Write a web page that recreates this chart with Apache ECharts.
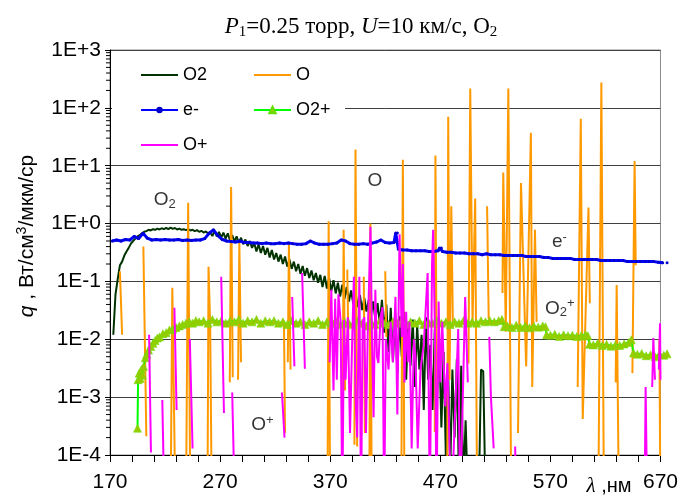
<!DOCTYPE html>
<html>
<head>
<meta charset="utf-8">
<script src="https://cdn.jsdelivr.net/npm/echarts@6/dist/echarts.min.js"></script>
<style>
  html, body { margin: 0; padding: 0; background: #fff; }
  #chart { width: 681px; height: 496px; }
</style>
</head>
<body>
<div id="chart"></div>
<script>
// Emission spectra q(λ), W/cm3/µm/sr, for P1 = 0.25 torr, U = 10 km/s, O2.
// Each series is a list of [wavelength nm, value]; null breaks the line.

const X_MIN = 170, X_MAX = 670, X_STEP = 100;
const Y_MIN = 1e-4, Y_MAX = 1e3;

// log-decade minor tick values 2..9 x 10^k
const Y_MINOR = [];
for (let k = -4; k < 3; k++) for (let m = 2; m <= 9; m++) Y_MINOR.push(m * Math.pow(10, k));

const O2_DATA = [
  [173,0.012],[175,0.06],[177,0.11],[179,0.19],[181,0.22],[183,0.28],[185,0.33],[187,0.38],[189,0.45],[191,0.5],
  [193,0.55],[195,0.6],[197,0.63],[199,0.68],[201,0.72],[203,0.74],[205,0.78],[207,0.76],[209,0.8],[211,0.78],
  [213,0.82],[215,0.79],[217,0.83],[219,0.8],[221,0.84],[223,0.8],[225,0.85],[227,0.81],[229,0.84],[231,0.79],
  [233,0.82],[235,0.78],[237,0.8],[239,0.77],[241,0.8],[243,0.76],[245,0.78],[247,0.74],[249,0.77],[251,0.72],
  [253,0.75],[255,0.7],[257,0.73],[259,0.68],[261,0.7],[263,0.61],[265,0.75],[267,0.6],[269,0.72],[271,0.57],
  [273,0.7],[275,0.55],[277,0.68],[279,0.51],[281,0.63],[283,0.49],[285,0.6],[287,0.46],[289,0.57],[291,0.44],
  [293,0.53],[295,0.41],[297,0.5],[299,0.38],[301,0.46],[303,0.33],[305,0.44],[307,0.31],[309,0.41],[311,0.29],
  [313,0.38],[315,0.26],[317,0.35],[319,0.24],[321,0.31],[323,0.22],[325,0.29],[327,0.2],[329,0.27],[331,0.18],
  [333,0.24],[335,0.165],[337,0.22],[339,0.15],[341,0.2],[343,0.135],[345,0.185],[347,0.125],[349,0.17],[351,0.115],
  [353,0.155],[355,0.105],[357,0.14],[359,0.095],[361,0.13],[363,0.08],[365,0.125],[367,0.075],[369,0.115],[371,0.068],
  [373,0.105],[375,0.062],[377,0.095],[379,0.055],[381,0.088],[383,0.05],[385,0.08],[387,0.045],[389,0.07],[391,0.04],
  [393,0.064],[395,0.036],[397,0.058],[399,0.032],[401,0.052],[403,0.03],[405,0.048],[407,0.026],[409,0.045],[411,0.022],
  [413,0.042],[415,0.019],[417,0.048],[419,0.013],[421,0.04],[423,0.006],[425,0.035],[427,0.004],[429,0.03],[431,0.0025],
  [433,0.025],[435,0.005],[437,0.03],[439,0.002],[441,0.02],[443,0.0035],[445,0.022],[447,0.0015],[449,0.018],[451,0.003],
  [453,0.012],[455,0.0006],[457,0.024],[459,0.002],[461,0.008],[463,0.0006],[465,0.015],[467,0.0009],[469,0.01],[471,0.0003],
  [473,0.006],[475,0.0001],[477,0.004],[479,0.00005],[481,0.003],[483,0.0002],[485,0.0045],[487,0.00003],[489,0.0035],[491,0.00003],
  [493,0.0004],[495,0.00002],[505,0.00002],[507,0.003],[509,0.0028],[511,0.00002]
];

const O_DATA = [
  [179,0.15],[181,0.012],null,
  [200.3,0.4],[203,2.1e-4],null,
  [225,1e-5],[226.6,0.078],[229.5,1e-5],[239,1e-5],[241,2.3],[243,1e-5],null,
  [258.5,1e-5],[259.5,0.18],[261,0.017],[262.5,1e-5],null,
  [278.8,0.0018],[280,4.3],[281.5,0.0022],null,
  [286.3,0.002],[287.5,0.47],[289,0.004],null,
  [328,0.021],[329,2.4e-4],null,
  [331.5,0.004],[332.5,0.47],[334,0.003],null,
  [367.5,1e-5],[368.6,1.1],[370,1e-5],null,
  [381.5,0.0013],[382.2,0.78],[383.5,0.0013],null,
  [385.5,0.16],[386.5,0.011],null,
  [392,1.5e-4],[393,19],[394.5,1.4e-4],null,
  [400.5,0.12],[401.5,2.4e-4],null,
  [405.5,1e-5],[406.5,1.0],[407.8,1e-5],null,
  [420,0.15],[421,0.011],null,
  [434.5,1e-5],[436,12.7],[437.5,1e-5],null,
  [465,2.5e-4],[465.6,15],[467,2.5e-4],null,
  [476.3,1e-5],[477.2,70],[478.4,0.002],[480,2.0],[481.5,0.016],null,
  [495.6,0.0038],[497.2,215],[499.3,0.02],[501.7,2.7],[503.5,1e-5],null,
  [512.5,2.0],[514,0.022],null,
  [526.5,0.063],[527.2,7.6],[529.5,0.0135],[531.8,215],[534.5,1e-5],null,
  [540.6,2.4e-4],[543.3,5.0],[545.5,0.16],[548,0.0034],[552.3,37],[553.5,0.0015],[556,0.78],[557.5,0.02],null,
  [594.8,0.0015],[597.6,65],[599.4,4.2e-4],[604.6,1.9],[605.8,0.042],null,
  [613.5,1e-5],[616.3,273],[618.7,1e-5],null,
  [629.3,0.0018],[630.2,0.087],[632.3,1e-5],null,
  [644.5,0.0026],[646.5,12],[647.5,0.19],null,
  [669,0.01],[670,1e-5]
];

const E_DATA = [
  [172,0.5],[176,0.52],[180,0.5],[184,0.53],[188,0.52],[192,0.6],[196,0.55],[200,0.68],[204,0.56],[208,0.52],
  [212,0.53],[216,0.52],[220,0.53],[224,0.52],[228,0.52],[232,0.53],[236,0.51],[240,0.52],[244,0.51],[248,0.52],
  [252,0.52],[256,0.55],[260,0.68],[264,0.78],[268,0.62],[272,0.53],[276,0.5],[280,0.49],[284,0.48],[288,0.5],
  [292,0.47],[296,0.47],[300,0.46],[304,0.46],[308,0.45],[312,0.46],[316,0.45],[320,0.45],[324,0.46],[328,0.45],
  [332,0.46],[336,0.45],[340,0.44],[344,0.44],[348,0.45],[352,0.5],[356,0.46],[360,0.44],[364,0.44],[368,0.44],
  [372,0.45],[376,0.46],[380,0.52],[384,0.5],[388,0.45],[392,0.44],[396,0.44],[400,0.45],[404,0.44],[408,0.46],
  [412,0.48],[416,0.52],[420,0.47],[424,0.46],[428,0.47],[429.5,0.69],[431,0.69],[432,0.36],[436,0.35],[440,0.35],
  [444,0.34],[448,0.34],[452,0.34],[456,0.34],[460,0.33],[464,0.33],[468,0.34],[469.5,0.38],[471,0.38],[472,0.33],
  [476,0.32],[480,0.32],[484,0.31],[488,0.31],[492,0.31],[496,0.3],[500,0.3],[504,0.3],[508,0.29],[512,0.3],
  [516,0.29],[520,0.29],[524,0.29],[528,0.28],[532,0.28],[536,0.28],[540,0.28],[544,0.28],[548,0.27],[552,0.27],
  [556,0.27],[560,0.27],[564,0.26],[568,0.26],[572,0.25],[576,0.25],[580,0.25],[584,0.25],[588,0.25],[592,0.24],
  [596,0.24],[600,0.24],[604,0.24],[608,0.24],[612,0.24],[616,0.23],[620,0.23],[624,0.23],[628,0.23],[632,0.23],
  [636,0.23],[640,0.22],[644,0.22],[648,0.22],[652,0.22],[656,0.22],[660,0.22],[664,0.22],[668,0.215],[672,0.21],[676,0.21]
];

const O2P_DATA = [
  [195,2.9e-4],[195.5,2.0e-3],[196.5,2.6e-3],[197.5,2.1e-3],[198.5,3.0e-3],[199.5,2.4e-3],[200.5,3.4e-3],[202,4.8e-3],
  [203.5,5.5e-3],[205,6.5e-3],[207,7.5e-3],[209,8.5e-3],[211,9.5e-3],[213,0.0105],[215,0.011],[218,0.0125],[221,0.013],
  [224,0.0145],[227,0.015],[230,0.016],[233,0.017],[236,0.018],[239,0.019],[242,0.02],[245,0.019],[248,0.021],
  [251,0.02],[255,0.021],[259,0.019],[263,0.022],[267,0.02],[271,0.021],[275,0.019],[279,0.021],[283,0.02],[287,0.022],
  [291,0.019],[295,0.021],[299,0.02],[303,0.022],[307,0.019],[311,0.021],[315,0.02],[319,0.021],[323,0.019],[327,0.02],
  [331,0.018],[335,0.021],[339,0.019],[343,0.02],[347,0.018],[351,0.02],[355,0.019],[359,0.021],[363,0.018],[367,0.02],
  [371,0.019],[375,0.021],[379,0.018],[383,0.02],[387,0.019],[391,0.018],[395,0.021],[399,0.019],[403,0.017],[407,0.02],
  [411,0.018],[415,0.021],[419,0.019],[423,0.018],[427,0.02],[431,0.019],[435,0.021],[439,0.018],[443,0.02],[447,0.019],
  [451,0.021],[455,0.018],[459,0.02],[463,0.019],[467,0.021],[471,0.019],[475,0.02],[479,0.018],[483,0.02],[487,0.019],
  [491,0.021],[495,0.019],[499,0.02],[503,0.019],[507,0.021],[511,0.02],[515,0.021],[519,0.02],[523,0.021],[526,0.022],
  [528,0.0165],[531,0.017],[535,0.016],[539,0.0175],[543,0.016],[547,0.017],[551,0.0158],[555,0.0168],[559,0.0162],[563,0.017],
  [565.5,0.0165],[566.5,0.012],[570,0.0118],[574,0.0122],[578,0.0112],[582,0.012],[586,0.0115],[590,0.0118],[594,0.0112],[598,0.0115],
  [602,0.012],[604,0.0115],[605.5,0.0082],[609,0.008],[613,0.0085],[617,0.0078],[621,0.0082],[625,0.0076],[629,0.008],[633,0.0078],
  [637,0.0083],[641,0.0088],[643.5,0.0098],[645.5,0.0058],[649,0.0055],[653,0.0057],[657,0.0052],[661,0.0054],[665,0.005],[669,0.0055],
  [673,0.0053],[676,0.0056]
];

const OP_DATA = [
  [205.5,0.012],[207.2,1.1e-4],null,
  [217.5,8.9e-4],[219.5,1e-5],null,
  [228.5,0.035],[230.5,6e-4],null,
  [242.5,0.01],[245,1.3e-4],null,
  [271,0.12],[273.5,5.3e-4],null,
  [281,1.2e-3],[283.5,1e-5],null,
  [326.2,1.2e-3],[328.5,2e-4],null,
  [335.5,0.054],[337.5,3.4e-3],null,
  [344.5,0.14],[347,3.1e-3],null,
  [369.5,0.004],[371,0.072],[373,0.0013],[374.5,0.05],[376,0.002],[377.5,0.06],[379.5,0.02],[381,1e-5],[382.5,0.0216],[384,0.002],
  [386,0.024],[388,2.4e-4],[390,0.01],[391.5,0.12],[393,0.001],[394.5,2e-4],[396.5,0.12],[398,1e-5],[399.5,0.02],[401,0.024],
  [402.5,2.4e-4],[404,0.01],[406.6,0.88],[408,0.01],[409.4,4.5e-4],[411,0.072],[412.5,0.005],[413.8,0.0039],[415.7,0.024],[417.5,0.036],
  [419,1e-5],[420.5,0.01],[423,0.003],[425,0.02],[427,0.004],[429.3,0.054],[431,5e-4],[433,0.65],[435,0.011],[436,0.2],
  [437.5,0.0018],[439,0.03],[440.5,0.004],[442,0.02],[444,1.3e-4],[446,0.01],[447.5,0.005],[449.5,1.3e-4],[452,0.003],[455,0.008],
  [458.5,0.14],[460.5,1e-5],[462.5,0.2],[463.5,0.78],[465.5,0.005],[466.5,1e-5],[468.5,0.045],[470,0.0018],[471.8,0.02],[474.5,7e-4],
  [476.5,0.0039],[480,1e-5],[486.3,0.015],[488,1e-5],[492.6,0.054],[495,0.0018],null,
  [514.5,0.011],[516,1e-3],[518.5,1.3e-4],null,
  [538,1.4e-4],[539,1e-5],null,
  [655.5,1e-5],[656.5,1.5e-3],[658,1e-5],null,
  [662.5,1.5e-3],[663.5,0.0105],[665,0.002],null,
  [668.5,0.003],[669.6,0.019],[670,0.002]
];

// in-plot species labels: [wavelength, value, rich text]
const NOTES = [
  [219.8, 2.53, '{n|O}{sub|2}'],
  [410.7, 5.5, '{n|O}'],
  [578.2, 0.484, '{n|e}{sup|-}'],
  [578.6, 0.0343, '{n|O}{sub|2}{sup|+}'],
  [308.5, 3.3e-4, '{n|O}{sup|+}']
];

const SANS = 'Liberation Sans, Arial, sans-serif';
const SERIF = 'Liberation Serif, Times New Roman, serif';

function withGaps(arr) {
  return arr.map(p => p === null ? ['-', '-'] : p);
}

function decadeLabel(v) {
  const e = Math.round(Math.log10(v));
  return '1E' + (e >= 0 ? '+' : '-') + Math.abs(e);
}

const chart = echarts.init(document.getElementById('chart'), null, { renderer: 'canvas' });

const lineBase = { type: 'line', showSymbol: false, symbol: 'none', connectNulls: false, animation: false };

// plain line entries hide the legend marker
const lineOnly = name => ({ name: name, itemStyle: { opacity: 0 } });

const legendBase = {
  orient: 'vertical', top: 61, z: 20,
  itemWidth: 37, itemHeight: 8, itemGap: 17,
  textStyle: { fontSize: 18, fontFamily: SANS, color: '#000', lineHeight: 18 }
};

chart.setOption({
  backgroundColor: '#fff',
  animation: false,
  grid: { left: 110, right: 18, top: 50, bottom: 41, show: true, borderColor: '#8c8c8c', borderWidth: 1 },
  xAxis: {
    type: 'value', min: X_MIN, max: X_MAX, interval: X_STEP,
    axisLine: { onZero: false, lineStyle: { color: '#000', width: 1 } },
    axisTick: { length: 7, lineStyle: { color: '#000' } },
    minorTick: { show: true, splitNumber: 5, length: 7, lineStyle: { color: '#000' } },
    splitLine: { show: false },
    axisLabel: { fontSize: 21, fontFamily: SANS, color: '#000', margin: 17 }
  },
  yAxis: {
    type: 'log', logBase: 10, min: Y_MIN, max: Y_MAX, splitNumber: 7,
    axisLine: { lineStyle: { color: '#000', width: 1 } },
    axisTick: { length: 5, lineStyle: { color: '#000' } },
    splitLine: { lineStyle: { color: '#404040', width: 1 } },
    axisLabel: { fontSize: 21, fontFamily: SANS, color: '#000', margin: 9, formatter: decadeLabel }
  },
  legend: [
    Object.assign({}, legendBase, { left: 135, data: [lineOnly('O2'), { name: 'e-' }, lineOnly('O+')] }),
    Object.assign({}, legendBase, { left: 248, data: [lineOnly('O'), { name: 'O2+' }] })
  ],
  graphic: [
    { type: 'rect', z: 10, shape: { x: 112, y: 51, width: 233, height: 103 }, style: { fill: '#fff' } },
    {
      type: 'text', x: 361, y: 27, z: 10,
      style: {
        text: '{i|P}{sub|1}=0.25 торр, {i|U}=10 км/с, O{sub|2}',
        align: 'center', verticalAlign: 'middle',
        font: '23px ' + SERIF, fill: '#000',
        rich: {
          i: { fontFamily: SERIF, fontSize: 23, fontStyle: 'italic', lineHeight: 26 },
          sub: { fontFamily: SERIF, fontSize: 15, lineHeight: 12, verticalAlign: 'bottom' }
        }
      }
    },
    {
      type: 'text', x: 27, y: 236, rotation: Math.PI / 2, z: 10,
      style: {
        text: '{i|q} , Вт/см{sup|3}/мкм/ср',
        align: 'center', verticalAlign: 'middle',
        font: '21px ' + SANS, fill: '#000',
        rich: {
          i: { fontFamily: SANS, fontSize: 21, fontStyle: 'italic', lineHeight: 24 },
          sup: { fontFamily: SANS, fontSize: 14, lineHeight: 12, verticalAlign: 'top' }
        }
      }
    },
    {
      type: 'text', x: 609, y: 486, z: 10,
      style: {
        text: '{l|λ} ,нм',
        align: 'center', verticalAlign: 'middle',
        font: '20px ' + SANS, fill: '#000',
        rich: { l: { fontFamily: SERIF, fontSize: 21, fontStyle: 'italic', lineHeight: 24 } }
      }
    }
  ],
  series: [
    Object.assign({}, lineBase, {
      name: 'O2', data: O2_DATA, z: 2,
      lineStyle: { color: '#003300', width: 2 }, itemStyle: { color: '#003300' }
    }),
    Object.assign({}, lineBase, {
      name: 'O', data: withGaps(O_DATA), z: 3,
      lineStyle: { color: '#ff9900', width: 2 }, itemStyle: { color: '#ff9900' }
    }),
    Object.assign({}, lineBase, {
      name: 'e-', data: E_DATA, z: 4, clip: false,
      showSymbol: true, symbol: 'circle', symbolSize: 3,
      lineStyle: { color: '#0000ff', width: 3 }, itemStyle: { color: '#0000cc' }
    }),
    Object.assign({}, lineBase, {
      name: 'O2+', data: O2P_DATA, z: 5, clip: false,
      showSymbol: true, symbol: 'triangle', symbolSize: 8,
      lineStyle: { color: '#00ff00', width: 2 },
      itemStyle: { color: '#99cc00', borderColor: '#66dd00', borderWidth: 0.5 }
    }),
    Object.assign({}, lineBase, {
      name: 'O+', data: withGaps(OP_DATA), z: 6,
      lineStyle: { color: '#ff00ff', width: 2 }, itemStyle: { color: '#ff00ff' }
    }),
    {
      // logarithmic minor ticks on the q axis
      type: 'custom', silent: true, z: 7, clip: false,
      data: Y_MINOR.map(v => [X_MIN, v]),
      encode: { x: 0, y: 1 },
      renderItem: function (params, api) {
        const p = api.coord([api.value(0), api.value(1)]);
        return {
          type: 'line',
          shape: { x1: p[0] - 4, y1: p[1], x2: p[0], y2: p[1] },
          style: { stroke: '#000', lineWidth: 1 }
        };
      }
    },
    {
      type: 'scatter', silent: true, z: 8, symbolSize: 0,
      data: NOTES.map(n => ({ value: [n[0], n[1]], label: { formatter: n[2] } })),
      label: {
        show: true, position: 'inside', color: '#000',
        rich: {
          n: { fontFamily: SANS, fontSize: 19, color: '#000', lineHeight: 22 },
          sub: { fontFamily: SANS, fontSize: 13, color: '#000', lineHeight: 12, verticalAlign: 'bottom' },
          sup: { fontFamily: SANS, fontSize: 13, color: '#000', lineHeight: 12, verticalAlign: 'top' }
        }
      }
    }
  ]
});
</script>
</body>
</html>
